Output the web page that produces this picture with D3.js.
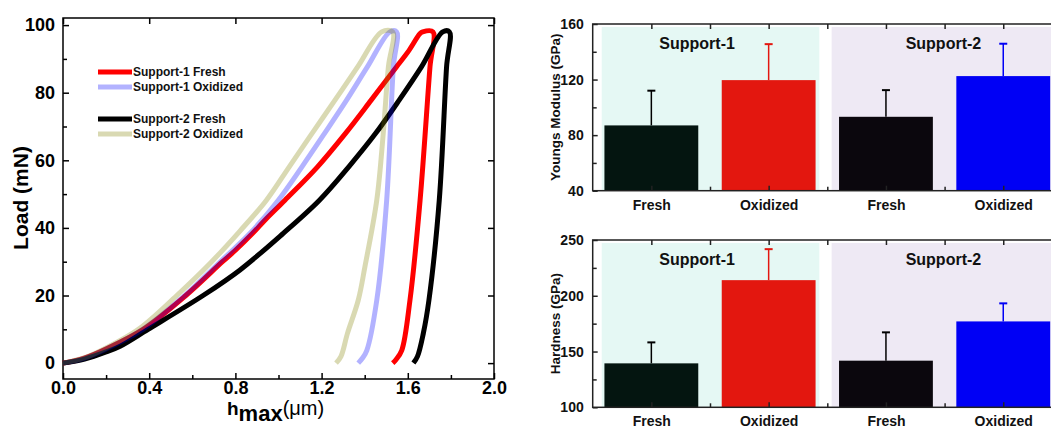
<!DOCTYPE html>
<html>
<head>
<meta charset="utf-8">
<script src="https://cdn.jsdelivr.net/npm/d3@7"></script>
<style>
  body { margin: 0; background: #fff; }
  svg { font-family: "Liberation Sans", Arial, sans-serif; font-weight: bold; }
</style>
</head>
<body>
<svg id="chart" width="1051" height="430"></svg>
<script>
// ---- load / depth curves, [h (um), load (mN)] ----
const s1Fresh = [[0,0],[0.1,1.5],[0.2,4.2],[0.372,10],[0.57,20],[0.74,30],[0.8,33.4],[0.88,38.4],[0.94,42.5],[1.03,48.2],[1.18,58],[1.31,67.9],[1.43,77.8],[1.548,87.7],[1.6,92],[1.657,97.5],[1.669,98],[1.717,98],[1.703,87.7],[1.657,48.2],[1.61,18.6],[1.572,3.8],[1.545,1],[1.53,0]]
const s1Oxid = [[0,0],[0.1,1.5],[0.2,4.2],[0.37,10],[0.565,20],[0.73,30],[0.868,38.4],[0.999,48.2],[1.108,58],[1.213,67.9],[1.316,77.8],[1.413,87.7],[1.517,98],[1.548,98],[1.533,87.7],[1.502,48.2],[1.456,18.6],[1.41,3.8],[1.39,1.5],[1.37,0]]
const s2Fresh = [[0,0],[0.1,1.2],[0.2,3.3],[0.265,5],[0.395,10],[0.65,20],[0.82,27.5],[1.022,38.4],[1.19,48.2],[1.325,58],[1.45,67.9],[1.56,77.8],[1.664,87.7],[1.762,98],[1.793,98],[1.78,87.7],[1.746,48.2],[1.698,18.6],[1.672,8.8],[1.645,2],[1.626,0]]
const s2Oxid = [[0,0],[0.1,1.6],[0.2,4.5],[0.35,10],[0.528,20],[0.69,30],[0.82,39],[0.944,48.2],[1.049,58],[1.155,67.9],[1.262,77.8],[1.368,87.7],[1.479,98],[1.53,98],[1.51,87.7],[1.486,67.9],[1.456,48.2],[1.401,28.5],[1.37,18.6],[1.32,8.8],[1.29,2],[1.267,0]]

const seriesNames = ["Support-1 Fresh", "Support-1 Oxidized", "Support-2 Fresh", "Support-2 Oxidized"]
const depthTicks = [0, 0.4, 0.8, 1.2, 1.6, 2.0]
const depthMinor = [0.2, 0.6, 1.0, 1.4, 1.8]
const loadTicks = [0, 20, 40, 60, 80, 100]
const loadMinor = [10, 30, 50, 70, 90]

// ---- bar charts ----
const categories = ["Fresh", "Oxidized", "Fresh", "Oxidized"]
const groups = ["Support-1", "Support-2"]
const modulus = [87, 119.6, 93.2, 122.5]
const modulusErr = [25, 25.9, 19.2, 23.3]
const hardness = [139.4, 214, 141.8, 177]
const hardnessErr = [18.8, 27.8, 25.4, 16.2]
const modulusTicks = [40, 80, 120, 160]
const modulusMinor = [60, 100, 140]
const hardnessTicks = [100, 150, 200, 250]
const hardnessMinor = [125, 175, 225]

const svg = d3.select("#chart")

// ================= left: load vs depth =================
const x = d3.scaleLinear().domain([0, 2]).range([63, 494])
const y = d3.scaleLinear().domain([-4.7, 102.1]).range([379, 18])

function axisStyle(g) {
  g.select(".domain").remove()
  g.selectAll("line").attr("stroke", "#000").attr("stroke-width", 1.5)
  g.selectAll("text").attr("fill", "#000").style("font-size", "18px").style("font-weight", "bold")
}

svg.append("g").attr("transform", `translate(0,${y.range()[0]})`)
  .call(d3.axisBottom(x).tickValues(depthTicks).tickSize(-6).tickPadding(2).tickFormat(d3.format(".1f")))
  .call(axisStyle)
svg.append("g").attr("transform", `translate(0,${y.range()[0]})`)
  .call(d3.axisBottom(x).tickValues(depthMinor).tickSize(-4).tickFormat(""))
  .call(axisStyle)
svg.append("g").attr("transform", `translate(0,${y.range()[1]})`)
  .call(d3.axisTop(x).tickValues(depthTicks).tickSize(-6).tickFormat(""))
  .call(axisStyle)
svg.append("g").attr("transform", `translate(${x.range()[0]},0)`)
  .call(d3.axisLeft(y).tickValues(loadTicks).tickSize(-6).tickPadding(8))
  .call(axisStyle)
svg.append("g").attr("transform", `translate(${x.range()[0]},0)`)
  .call(d3.axisLeft(y).tickValues(loadMinor).tickSize(-4).tickFormat(""))
  .call(axisStyle)
svg.append("g").attr("transform", `translate(${x.range()[1]},0)`)
  .call(d3.axisRight(y).tickValues(loadTicks).tickSize(-6).tickFormat(""))
  .call(axisStyle)

svg.append("rect")
  .attr("x", x.range()[0]).attr("y", y.range()[1])
  .attr("width", x.range()[1] - x.range()[0]).attr("height", y.range()[0] - y.range()[1])
  .attr("fill", "none").attr("stroke", "#000").attr("stroke-width", 1.5)

const line = d3.line().x(d => x(d[0])).y(d => y(d[1])).curve(d3.curveCatmullRom.alpha(0.5))
const curves = [
  {data: s1Fresh, color: "#ff0000", op: 1},
  {data: s2Fresh, color: "#000000", op: 1},
  {data: s1Oxid, color: "#0000ff", op: 0.3},
  {data: s2Oxid, color: "#808000", op: 0.3}
]
const curveByName = [curves[0], curves[2], curves[1], curves[3]]

curves.forEach(c => {
  svg.append("path").datum(c.data)
    .attr("d", line)
    .attr("fill", "none")
    .attr("stroke", c.color)
    .attr("stroke-opacity", c.op)
    .attr("stroke-width", 5)
    .attr("stroke-linejoin", "round")
})

// legend
const legend = svg.append("g")
seriesNames.forEach((name, i) => {
  const ly = 72 + i * 15 + (i >= 2 ? 17 : 0)
  const c = curveByName[i]
  legend.append("line")
    .attr("x1", 98).attr("x2", 132).attr("y1", ly).attr("y2", ly)
    .attr("stroke", c.color).attr("stroke-opacity", c.op).attr("stroke-width", 5)
  legend.append("text")
    .attr("x", 133).attr("y", ly).attr("dy", "0.35em")
    .style("font-size", "12px").attr("fill", "#111")
    .text(name)
})

svg.append("text")
  .attr("transform", "translate(28,198) rotate(-90)")
  .attr("text-anchor", "middle")
  .style("font-size", "21px")
  .text("Load (mN)")

const xl = svg.append("text").attr("x", 227).attr("y", 415)
xl.append("tspan").style("font-size", "19px").text("h")
xl.append("tspan").style("font-size", "22px").attr("dy", 6).text("max")
xl.append("tspan").style("font-size", "20px").style("font-weight", "normal").attr("dy", -6).text("(\u03bcm)")

// ================= right: bar charts =================
const xb = d3.scaleLinear().domain([0.5, 4.5]).range([592.7, 1061.9])
const barColors = ["#041510", "#e3170f", "#0b070d", "#0000f5"]
const errColors = ["#000", "#e3170f", "#000", "#0000f5"]
const bandSpans = [[0.577, 2.432], [2.537, 4.45]]
const bandColors = ["#e5f8f4", "#eee9f4"]
const groupLabelAt = [1.39, 3.49]

function barAxisStyle(g) {
  g.select(".domain").remove()
  g.selectAll("line").attr("stroke", "#222").attr("stroke-width", 1.5)
  g.selectAll("text").attr("fill", "#111").style("font-size", "14px").style("font-weight", "bold")
}

function drawBars(values, errs, domain, ticks, minor, top, bottom, label) {
  const yb = d3.scaleLinear().domain(domain).range([bottom, top])
  const g = svg.append("g")

  bandSpans.forEach((s, i) => {
    g.append("rect")
      .attr("x", xb(s[0])).attr("y", top + 3)
      .attr("width", xb(s[1]) - xb(s[0])).attr("height", bottom - top - 3)
      .attr("fill", bandColors[i])
  })

  groups.forEach((name, i) => {
    g.append("text")
      .attr("x", xb(groupLabelAt[i])).attr("y", top + 19)
      .attr("dy", "0.35em").attr("text-anchor", "middle")
      .style("font-size", "16px").attr("fill", "#111")
      .text(name)
  })

  const hw = xb(1.4) - xb(1)
  values.forEach((v, i) => {
    const cx = xb(i + 1)
    g.append("line")
      .attr("x1", cx).attr("x2", cx).attr("y1", yb(v)).attr("y2", yb(v + errs[i]))
      .attr("stroke", errColors[i]).attr("stroke-width", 1.5)
    g.append("line")
      .attr("x1", cx - 4).attr("x2", cx + 4).attr("y1", yb(v + errs[i])).attr("y2", yb(v + errs[i]))
      .attr("stroke", errColors[i]).attr("stroke-width", 2)
    g.append("rect")
      .attr("x", cx - hw).attr("y", yb(v))
      .attr("width", hw * 2).attr("height", bottom - yb(v))
      .attr("fill", barColors[i])
  })

  const catTicks = [1, 2, 3, 4]
  const catMinor = [1.5, 2.5, 3.5]
  g.append("g").attr("transform", `translate(0,${bottom})`)
    .call(d3.axisBottom(xb).tickValues(catTicks).tickSize(-5).tickPadding(9).tickFormat((d, i) => categories[i]))
    .call(barAxisStyle)
  g.append("g").attr("transform", `translate(0,${bottom})`)
    .call(d3.axisBottom(xb).tickValues(catMinor).tickSize(-4).tickFormat(""))
    .call(barAxisStyle)
  g.append("g").attr("transform", `translate(0,${top})`)
    .call(d3.axisTop(xb).tickValues(catTicks.concat(catMinor)).tickSize(-5).tickFormat(""))
    .call(barAxisStyle)
  g.append("g").attr("transform", `translate(${xb.range()[0]},0)`)
    .call(d3.axisLeft(yb).tickValues(ticks).tickSize(-5).tickPadding(9))
    .call(barAxisStyle)
  g.append("g").attr("transform", `translate(${xb.range()[0]},0)`)
    .call(d3.axisLeft(yb).tickValues(minor).tickSize(-4).tickFormat(""))
    .call(barAxisStyle)

  g.append("rect")
    .attr("x", xb.range()[0]).attr("y", top)
    .attr("width", xb.range()[1] - xb.range()[0]).attr("height", bottom - top)
    .attr("fill", "none").attr("stroke", "#222").attr("stroke-width", 1.5)

  g.append("text")
    .attr("transform", `translate(560,${(top + bottom) / 2}) rotate(-90)`)
    .attr("text-anchor", "middle")
    .style("font-size", "13.5px").attr("fill", "#111")
    .text(label)
}

drawBars(modulus, modulusErr, [40, 160], modulusTicks, modulusMinor, 24, 190.7, "Youngs Modulus (GPa)")
drawBars(hardness, hardnessErr, [100, 250], hardnessTicks, hardnessMinor, 240, 407.3, "Hardness (GPa)")
</script>
</body>
</html>
